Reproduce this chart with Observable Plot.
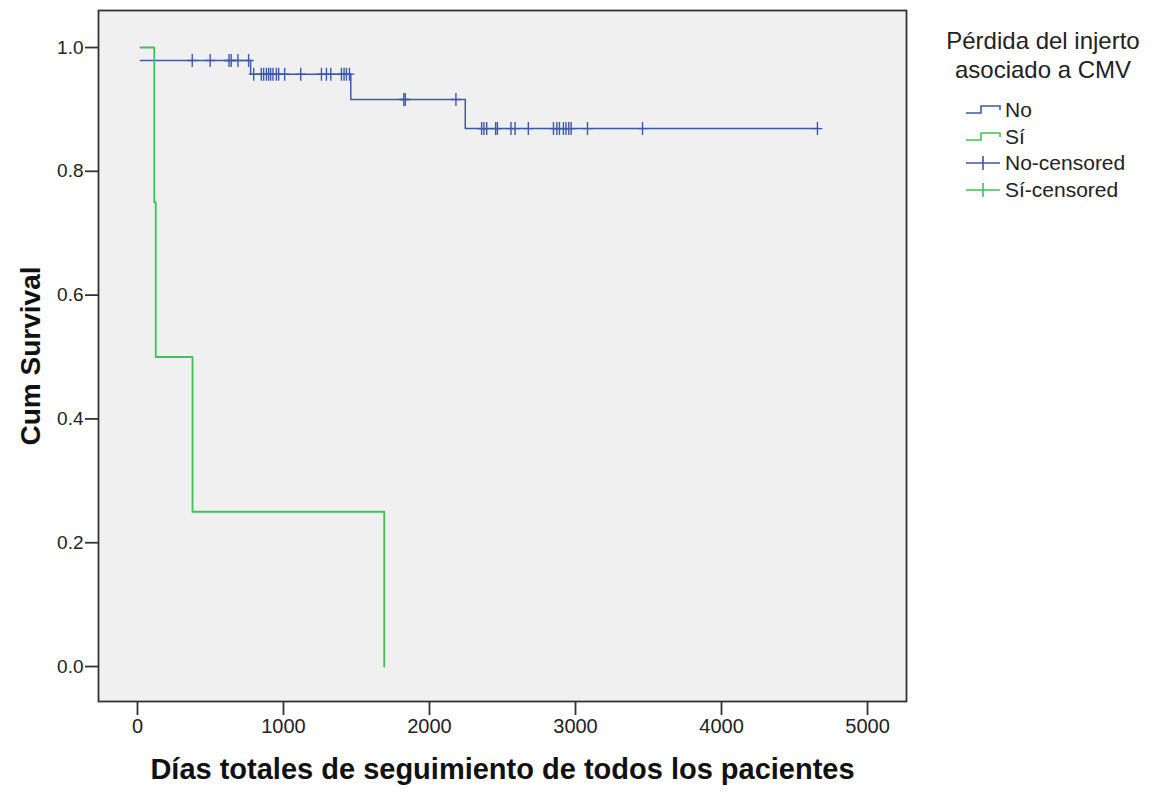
<!DOCTYPE html>
<html>
<head>
<meta charset="utf-8">
<script src="https://cdn.jsdelivr.net/npm/d3@7"></script>
<script src="https://cdn.jsdelivr.net/npm/@observablehq/plot@0.6"></script>
<style>
  body { margin: 0; background: #fff; }
  #wrap { position: relative; width: 1159px; height: 795px; font-family: "Liberation Sans", Arial, sans-serif; color: #222; }
  #legend { position: absolute; left: 930px; top: 26px; width: 229px; }
  #legend .title { text-align: center; font-size: 24px; line-height: 29px; width: 226px; margin-left: 0px; }
  #legend .row { position: absolute; left: 35px; height: 26px; display: flex; align-items: center; font-size: 21px; white-space: nowrap; }
  #legend .row svg { margin-right: 4px; }
</style>
</head>
<body>
<div id="wrap"><div id="chart"></div><div id="legend"></div></div>
<script>
// ---- data ----
const groups = ["No", "Sí"];
const groupColors = ["#3e58ac", "#3cc257"];
const legendTitle = ["Pérdida del injerto", "asociado a CMV"];
const xTitle = "Días totales de seguimiento de todos los pacientes";
const yTitle = "Cum Survival";
const xTicks = [0, 1000, 2000, 3000, 4000, 5000];
const yTicks = [0, 0.2, 0.4, 0.6, 0.8, 1.0];

// step points (time, cumulative survival) for each group
const noTimes = [20, 775, 1461, 2245, 4665];
const noSurv  = [0.979, 0.957, 0.916, 0.869, 0.869];
const siTimes = [20, 115, 125, 377, 1690];
const siSurv  = [1.0, 0.75, 0.5, 0.25, 0.0];

// censored observations (group "No")
const noCensored = [
  375, 498, 627, 642, 688, 761,
  796, 848, 864, 883, 898, 912, 928, 951, 967, 1008, 1118, 1260, 1294, 1324, 1397, 1415, 1431, 1452,
  1824, 1834, 2181,
  2357, 2373, 2392, 2453, 2465, 2558, 2586, 2677, 2849, 2872, 2890, 2917, 2935, 2954, 2970, 3082, 3459, 4657
];

// ---- build tables ----
const noData = noTimes.map((t, i) => ({t, s: noSurv[i]}));
const siData = siTimes.map((t, i) => ({t, s: siSurv[i]}));
function survAt(times, surv, t) {
  let s = surv[0];
  for (let i = 0; i < times.length; i++) if (times[i] <= t) s = surv[i];
  return s;
}
const noCensData = noCensored.map(t => ({t, s: survAt(noTimes, noSurv, t)}));

const censorSymbol = {
  draw(ctx, size) {
    ctx.moveTo(0, -6.5); ctx.lineTo(0, 6.5);
    ctx.moveTo(-5, 0); ctx.lineTo(5, 0);
  }
};

const chart = Plot.plot({
  width: 1159,
  height: 795,
  marginLeft: 98,
  marginRight: 253,
  marginTop: 10,
  marginBottom: 94,
  style: {fontFamily: "'Liberation Sans', Arial, sans-serif", color: "#222", background: "transparent", overflow: "visible"},
  x: {domain: [-267, 5267]},
  y: {domain: [-0.0565, 1.0598]},
  marks: [
    Plot.frame({fill: "#f0f0f0", stroke: null}),
    Plot.line(noData, {x: "t", y: "s", curve: "step-after", stroke: groupColors[0], strokeWidth: 1.5}),
    Plot.line(siData, {x: "t", y: "s", curve: "step-after", stroke: groupColors[1], strokeWidth: 1.8}),
    Plot.dot(noCensData, {x: "t", y: "s", symbol: censorSymbol, fill: "none", stroke: groupColors[0], strokeWidth: 1.4}),
    Plot.frame({stroke: "#333", strokeWidth: 1.8}),
    Plot.axisX({ticks: xTicks, tickSize: 14, tickPadding: 3, fontSize: 20, tickFormat: d => String(d), label: null, strokeWidth: 1.8, stroke: "#333"}),
    Plot.axisY({ticks: yTicks, tickSize: 13, tickPadding: 2, fontSize: 19, tickFormat: d => d.toFixed(1), label: null, strokeWidth: 1.8, stroke: "#333"}),
    Plot.text([xTitle], {frameAnchor: "bottom", dy: 77, fontSize: 29, fontWeight: "bold", fill: "#111", text: d => d}),
    Plot.text([yTitle], {frameAnchor: "left", textAnchor: "middle", rotate: -90, dx: -67, fontSize: 28, fontWeight: "bold", fill: "#111", text: d => d})
  ]
});
document.getElementById("chart").appendChild(chart);

// ---- legend ----
const legend = document.getElementById("legend");
const title = document.createElement("div");
title.className = "title";
title.innerHTML = legendTitle.join("<br>");
legend.appendChild(title);
const items = [
  {label: groups[0], color: groupColors[0], kind: "step"},
  {label: groups[1], color: groupColors[1], kind: "step"},
  {label: groups[0] + "-censored", color: groupColors[0], kind: "cens"},
  {label: groups[1] + "-censored", color: groupColors[1], kind: "cens"}
];
const rowTops = [71, 98, 124, 151];
items.forEach((it, i) => {
  const row = document.createElement("div");
  row.className = "row";
  row.style.top = rowTops[i] + "px";
  const path = it.kind === "step"
    ? `<path d="M1,12 H16 V5 H35 V9" fill="none" stroke="${it.color}" stroke-width="1.6"/>`
    : `<path d="M1,9 H35 M18,2 V16" fill="none" stroke="${it.color}" stroke-width="1.6"/>`;
  row.innerHTML = `<svg width="36" height="18" viewBox="0 0 36 18">${path}</svg><span>${it.label}</span>`;
  legend.appendChild(row);
});
</script>
</body>
</html>
